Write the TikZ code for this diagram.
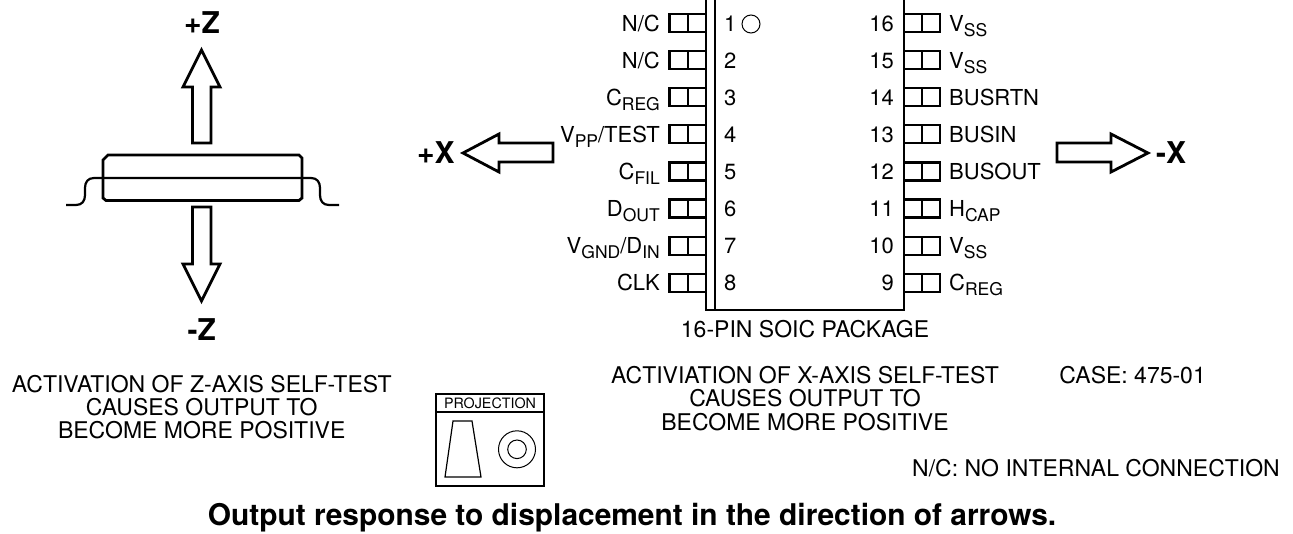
\documentclass[tikz,border=0pt]{standalone}
\usepackage{fontspec}
\setmainfont{TeX Gyre Heros}
\newcommand\lowsub[1]{\raisebox{-5pt}{\fontsize{17.5}{18}\selectfont #1}}
\tikzset{
  x=1pt,y=-1pt,
  thick line/.style={line width=2.8pt,line join=miter},
  pin/.style={line width=2.2pt},
  pinlabel/.style={inner sep=0,font=\fontsize{22}{24}\selectfont},
  leftlabel/.style={pinlabel,anchor=base east},
  rightlabel/.style={pinlabel,anchor=base west},
  leftnum/.style={pinlabel,anchor=base west},
  rightnum/.style={pinlabel,anchor=base east},
  axis/.style={inner sep=0,anchor=base,font=\fontsize{30}{32}\selectfont\bfseries},
  note/.style={inner sep=0,anchor=base,font=\fontsize{23}{26}\selectfont},
}
\begin{document}
\begin{tikzpicture}
\useasboundingbox (0,0) rectangle (1293,533);
% Z arrows
\draw[thick line] (201.5,50) -- (220,87) -- (211,87) -- (211,143) -- (192.5,143) -- (192.5,87) -- (183,87) -- cycle;
\draw[thick line] (201.5,301) -- (220,264) -- (211,264) -- (211,207) -- (192.5,207) -- (192.5,264) -- (183,264) -- cycle;
% side view package
\draw[line width=2.8pt] (108,155) -- (299,155) -- (302,158) -- (302,198) -- (299,200.5) -- (106,200.5) -- (103,198) -- (103,160) -- cycle;
\draw[line width=2.2pt] (66,205) -- (76,205) .. controls (82,205) and (85,201) .. (85,195) -- (85,188) .. controls (85,182) and (88,178) .. (94,178) -- (311,178) .. controls (317,178) and (320,182) .. (320,188) -- (320,195) .. controls (320,201) and (323,205) .. (329,205) -- (339,205);
\node[axis] (pz) at (202,33) {+Z};
\node[axis] (mz) at (201.7,340) {-Z};
% X arrows
\draw[thick line] (463,153) -- (499,134) -- (499,143) -- (553,143) -- (553,162) -- (499,162) -- (499,172) -- cycle;
\draw[thick line] (1148,153) -- (1111,134) -- (1111,143) -- (1057,143) -- (1057,162) -- (1111,162) -- (1111,172) -- cycle;
\node[axis,anchor=base west] (px) at (417,163) {+X};
\node[axis,anchor=base west] (mx) at (1156,163) {-X};
% chip
\draw[line width=2.6pt] (706,0) -- (706,310) -- (904,310) -- (904,0);
\draw[line width=2.2pt] (715,0) -- (715,310);
\foreach \i in {0,...,7}{
  \pgfmathsetmacro\t{14+37.1*\i}
  \pgfmathsetmacro\b{\t+18}
  \draw[pin] (706,\t) -- (669.5,\t) -- (669.5,\b) -- (706,\b);
  \draw[pin] (688,\t) -- (688,\b);
  \draw[pin] (904,\t) -- (940,\t) -- (940,\b) -- (904,\b);
  \draw[pin] (922,\t) -- (922,\b);
}
\draw[line width=1pt] (751,24) circle (9);
\foreach \n/\lab [count=\c from 0] in {1/{N/C},2/{N/C},3/{C\lowsub{REG}},4/{V\lowsub{PP}/TEST},5/{C\lowsub{FIL}},6/{D\lowsub{OUT}},7/{V\lowsub{GND}/D\lowsub{IN}},8/CLK}{
  \pgfmathsetmacro\yy{31+37.1*\c}
  \node[leftnum] (ln\n) at (724,\yy) {\n};
  \node[leftlabel] (ll\n) at (660,\yy) {\lab};
}
\foreach \n/\lab [count=\c from 0] in {16/{V\lowsub{SS}},15/{V\lowsub{SS}},14/BUSRTN,13/BUSIN,12/BUSOUT,11/{H\lowsub{CAP}},10/{V\lowsub{SS}},9/{C\lowsub{REG}}}{
  \pgfmathsetmacro\yy{31+37.1*\c}
  \node[rightnum] (rn\n) at (894,\yy) {\n};
  \node[rightlabel] (rl\n) at (949,\yy) {\lab};
}
% texts
\node[note] (pkg) at (805,337) {16-PIN SOIC PACKAGE};
\node[note] (z1) at (201.7,392) {ACTIVATION OF Z-AXIS SELF-TEST};
\node[note] (z2) at (201.7,415.5) {CAUSES OUTPUT TO};
\node[note] (z3) at (201.7,438) {BECOME MORE POSITIVE};
\node[note] (x1) at (805,383) {ACTIVIATION OF X-AXIS SELF-TEST};
\node[note] (x2) at (805,406.5) {CAUSES OUTPUT TO};
\node[note] (x3) at (805,430) {BECOME MORE POSITIVE};
\node[note,anchor=base east] (case) at (1206,383) {CASE: 475-01};
\node[note,anchor=base east] (nc) at (1280,476) {N/C: NO INTERNAL CONNECTION};
\node[inner sep=0,anchor=base,font=\fontsize{29.9}{32}\selectfont\bfseries] (title) at (632,525) {Output response to displacement in the direction of arrows.};
% projection
\draw[line width=2.2pt] (436,394) rectangle (544,486);
\draw[line width=2pt] (436,412) -- (544,412);
\node[inner sep=0,anchor=base,font=\fontsize{14.3}{16}\selectfont] (proj) at (490,408) {PROJECTION};
\draw[line width=1.2pt] (453,421) -- (472,421) -- (481,477) -- (445,477) -- cycle;
\draw[line width=1pt] (517,449.3) circle (18.5);
\draw[line width=1pt] (517,449.3) circle (9.3);
\end{tikzpicture}
\end{document}
